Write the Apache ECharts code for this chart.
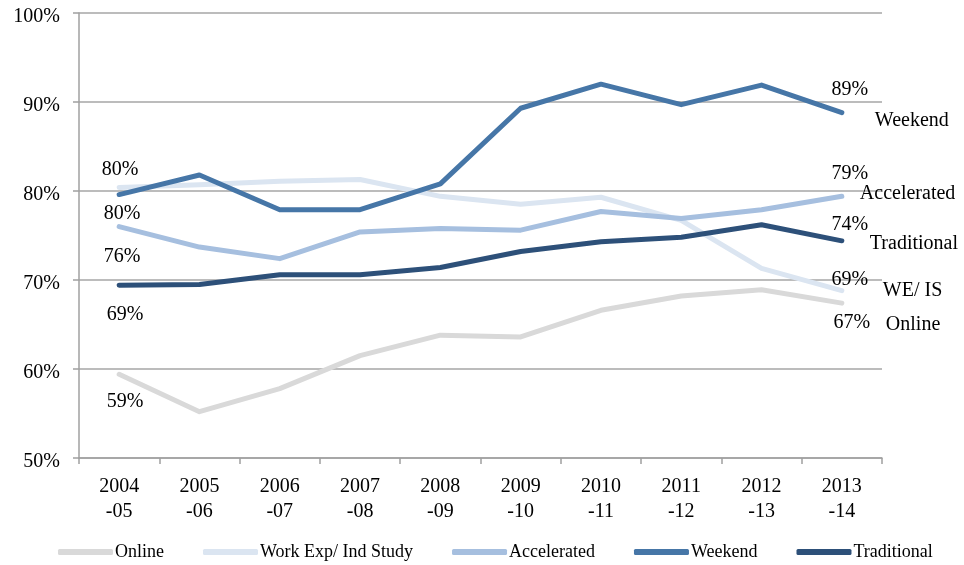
<!DOCTYPE html>
<html><head><meta charset="utf-8">
<script src="https://cdn.jsdelivr.net/npm/echarts@6/dist/echarts.min.js"></script>
<style>html,body{margin:0;padding:0;background:#fff}#c{width:964px;height:565px}</style>
</head><body><div id="c"></div>
<script>
const categories = ['2004\n-05','2005\n-06','2006\n-07','2007\n-08','2008\n-09','2009\n-10','2010\n-11','2011\n-12','2012\n-13','2013\n-14'];
const online      = [59.4, 55.2, 57.8, 61.5, 63.8, 63.6, 66.6, 68.2, 68.9, 67.4];
const workExp     = [80.4, 80.7, 81.1, 81.3, 79.4, 78.5, 79.3, 76.7, 71.3, 68.8];
const accelerated = [76.0, 73.7, 72.4, 75.4, 75.8, 75.6, 77.7, 76.9, 77.9, 79.4];
const weekend     = [79.6, 81.8, 77.9, 77.9, 80.8, 89.3, 92.0, 89.7, 91.9, 88.8];
const traditional = [69.4, 69.5, 70.6, 70.6, 71.4, 73.2, 74.3, 74.8, 76.2, 74.4];
const yTicks = {min: 50, max: 100, interval: 10};

const FONT = 'Liberation Serif';
const seriesDefs = [
  {name:'Online', short:'Online', data: online, color:'#d9d9d9',
   first:[6,27], last:[10,20], end:[44,22]},
  {name:'Work Exp/ Ind Study', short:'WE/ IS', data: workExp, color:'#dbe5f1',
   first:[1,-18], last:[8,-11], end:[41,0]},
  {name:'Accelerated', short:'Accelerated', data: accelerated, color:'#a6bfdf',
   first:[3,30], last:[8,-23], end:[18,-3]},
  {name:'Weekend', short:'Weekend', data: weekend, color:'#4676a7',
   first:[3,19], last:[8,-23], end:[33,8]},
  {name:'Traditional', short:'Traditional', data: traditional, color:'#2d5079',
   first:[6,29], last:[8,-16], end:[28,3]}
];

function pointLabel(off){
  return {show:true, position:'inside', align:'center', verticalAlign:'middle',
    offset: off, color:'#000', fontFamily: FONT, fontSize: 20,
    formatter: p => Math.round(p.value) + '%'};
}

const series = seriesDefs.map(s => ({
  name: s.name, type:'line', data: s.data.map((v,i) => {
    if (i === 0) return {value: v, label: pointLabel(s.first)};
    if (i === s.data.length-1) return {value: v, label: pointLabel(s.last)};
    return v;
  }),
  symbol:'circle', symbolSize: 0.1, showSymbol: true,
  color: s.color,
  lineStyle:{width:5, color:s.color, cap:'round', join:'round'},
  itemStyle:{color:s.color},
  label:{show:false},
  endLabel:{show:true, formatter: () => s.short, distance:0, offset: s.end,
    color:'#000', fontFamily: FONT, fontSize:20, align:'left', verticalAlign:'middle'},
  emphasis:{disabled:true},
  animation:false
}));

const chart = echarts.init(document.getElementById('c'), null, {renderer:'canvas'});
chart.setOption({
  backgroundColor:'#fff',
  animation:false,
  grid:{left:79, right:82, top:13, bottom:107, containLabel:false},
  legend:{
    data: seriesDefs.map(s => s.name),
    left: 53, top: 538,
    icon: 'roundRect', itemWidth: 55, itemHeight: 6, itemGap: 39,
    textStyle:{fontFamily: FONT, fontSize: 18, color:'#000', padding:[0,0,0,-3]}
  },
  xAxis:{
    type:'category', data: categories, boundaryGap:true,
    axisLine:{show:true, lineStyle:{color:'#a0a0a0', width:1.5}},
    axisTick:{show:true, length:6, lineStyle:{color:'#a0a0a0', width:1.5}},
    axisLabel:{color:'#000', fontFamily: FONT, fontSize:20, lineHeight:25, margin:16, interval:0},
    splitLine:{show:false}
  },
  yAxis:{
    type:'value', min: yTicks.min, max: yTicks.max, interval: yTicks.interval,
    axisLine:{show:true, lineStyle:{color:'#a0a0a0', width:1.5}},
    axisTick:{show:true, length:6, lineStyle:{color:'#a0a0a0', width:1.5}},
    axisLabel:{color:'#000', fontFamily: FONT, fontSize:20, margin:19, verticalAlign:'top', lineHeight:7, formatter:'{value}%'},
    splitLine:{show:true, lineStyle:{color:'#a6a6a6', width:1.5}}
  },
  series: series
});
</script>
</body></html>
